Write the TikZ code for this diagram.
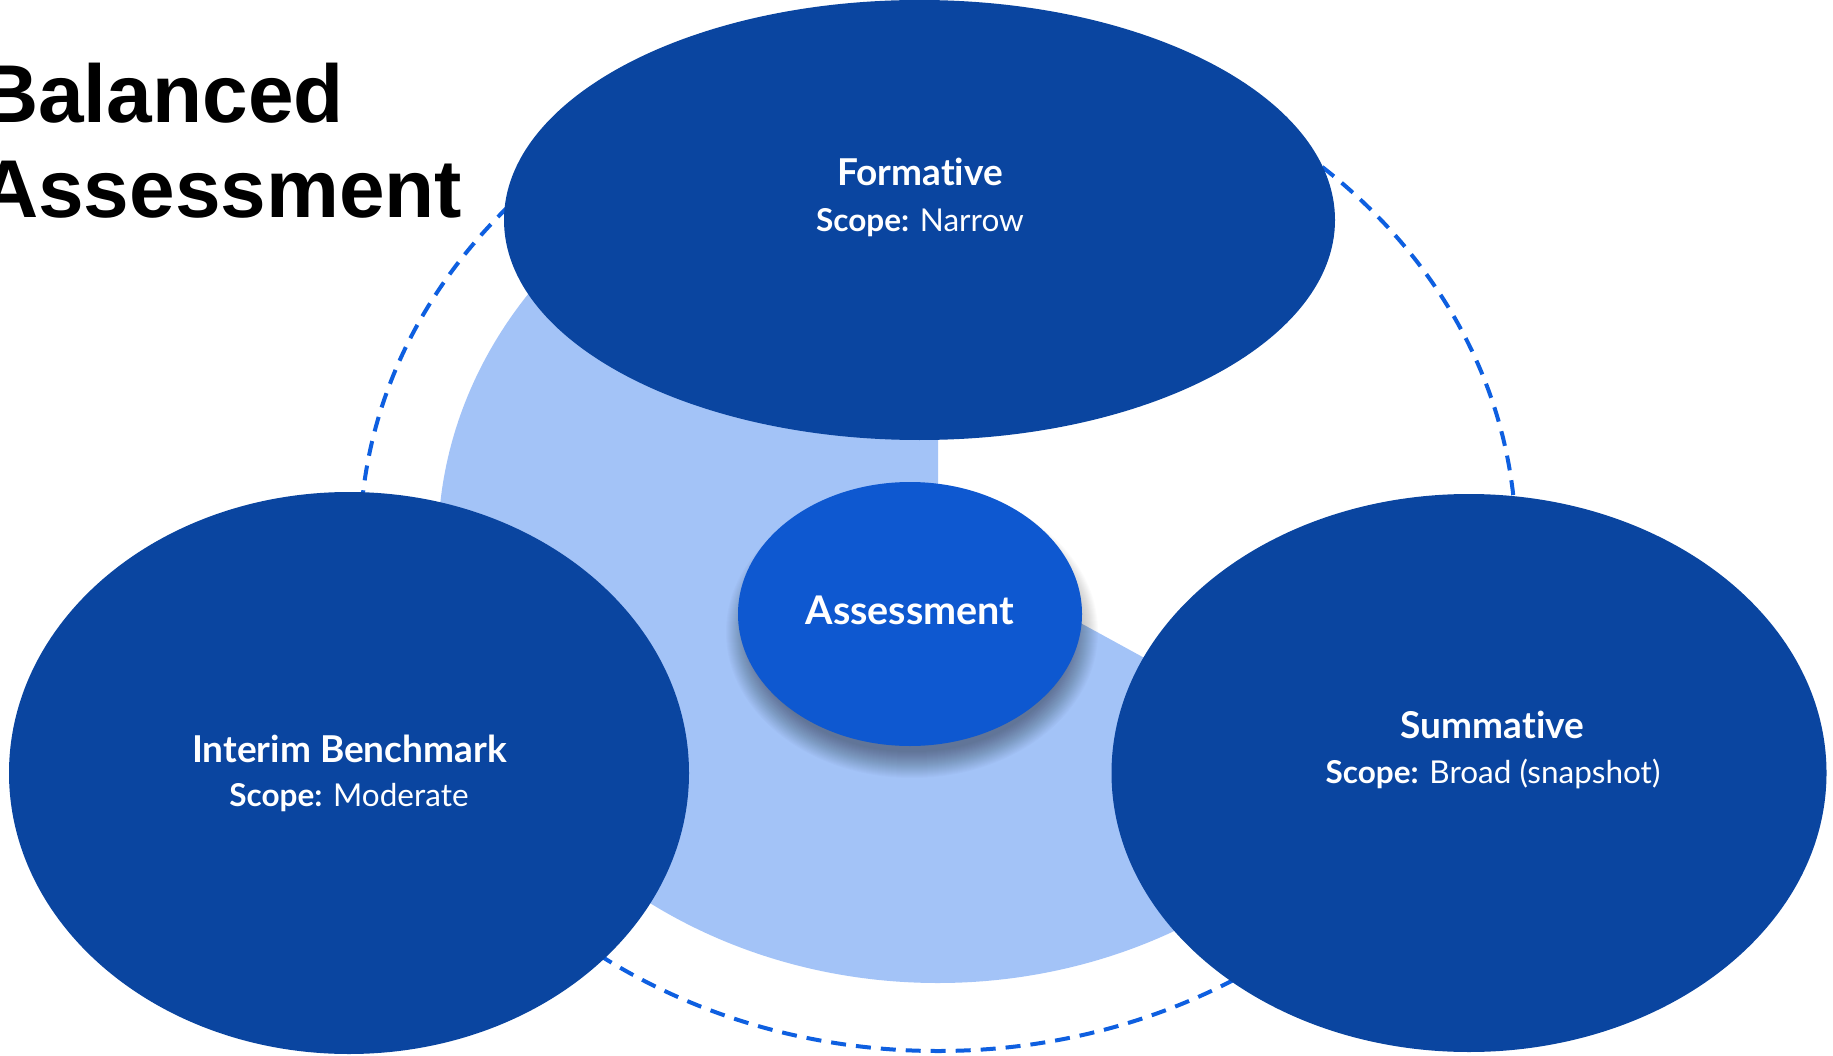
\documentclass[tikz,border=0pt]{standalone}
\usepackage{fontspec}
\setmainfont{Lato}[Ligatures={NoCommon}]
\newfontfamily\titlefont{Liberation Sans}
\usetikzlibrary{shapes.geometric}
\definecolor{darkblue}{HTML}{0A45A0}
\definecolor{midblue}{HTML}{0E58D0}
\definecolor{lightblue}{HTML}{A3C3F7}
\definecolor{dashblue}{HTML}{0E5FE0}
\tikzset{
  bigell/.style={ellipse, fill=darkblue, inner sep=0pt, draw=none},
  headtxt/.style={text=white, inner sep=0pt, anchor=base, font=\bfseries\fontsize{37}{44}\selectfont},
  scopetxt/.style={text=white, inner sep=0pt, anchor=base, font=\fontsize{31.5}{37}\selectfont},
  titletxt/.style={text=black, inner sep=0pt, anchor=base west, font=\titlefont\bfseries\fontsize{82}{95}\selectfont},
}
\begin{document}
\begin{tikzpicture}[x=1pt,y=1pt]
\useasboundingbox (0,0) rectangle (1833,-1056);
\clip (0,0) rectangle (1833,-1056);
% dashed ring
\draw[dashblue, line width=4pt, dash pattern=on 15pt off 10pt] (938,-545) ellipse [x radius=578pt, y radius=506pt];
% light pie
\fill[lightblue] (938,-545) -- ++(0pt,438pt) arc[start angle=90, end angle=328, x radius=500pt, y radius=438pt] -- cycle;
% big ellipses
\node[bigell, minimum width=831pt, minimum height=440pt] (form) at (919.5,-220) {};
\node[bigell, minimum width=680pt, minimum height=562pt] (inter) at (349,-773) {};
\node[bigell, minimum width=715pt, minimum height=558pt] (summ) at (1469,-773) {};
% shadow of center
\foreach \k in {0,...,26} {
  \fill[black, opacity=0.016] (912,-632) ellipse [x radius=160+\k, y radius=120+\k];
}
\node[ellipse, fill=midblue, inner sep=0pt, minimum width=344pt, minimum height=264pt] (center) at (910,-614) {};
% texts
\node[headtxt] (formT) at (920,-186) {Formative};
\node[scopetxt] (formS) at (920,-232) {\textbf{Scope:} Narrow};
\node[headtxt] (interT) at (349.5,-762) {Interim Benchmark};
\node[scopetxt] (interS) at (349,-806) {\textbf{Scope:} Moderate};
\node[headtxt] (summT) at (1492.5,-738) {Summative};
\node[scopetxt] (summS) at (1493,-783) {\textbf{Scope:} Broad (snapshot)};
\node[headtxt, font=\bfseries\fontsize{39.5}{46}\selectfont] (centerT) at (910,-624) {Assessment};
\node[titletxt] (title1) at (-21,-123) {Balanced};
\node[titletxt] (title2) at (-21,-218) {Assessment};
\end{tikzpicture}
\end{document}
